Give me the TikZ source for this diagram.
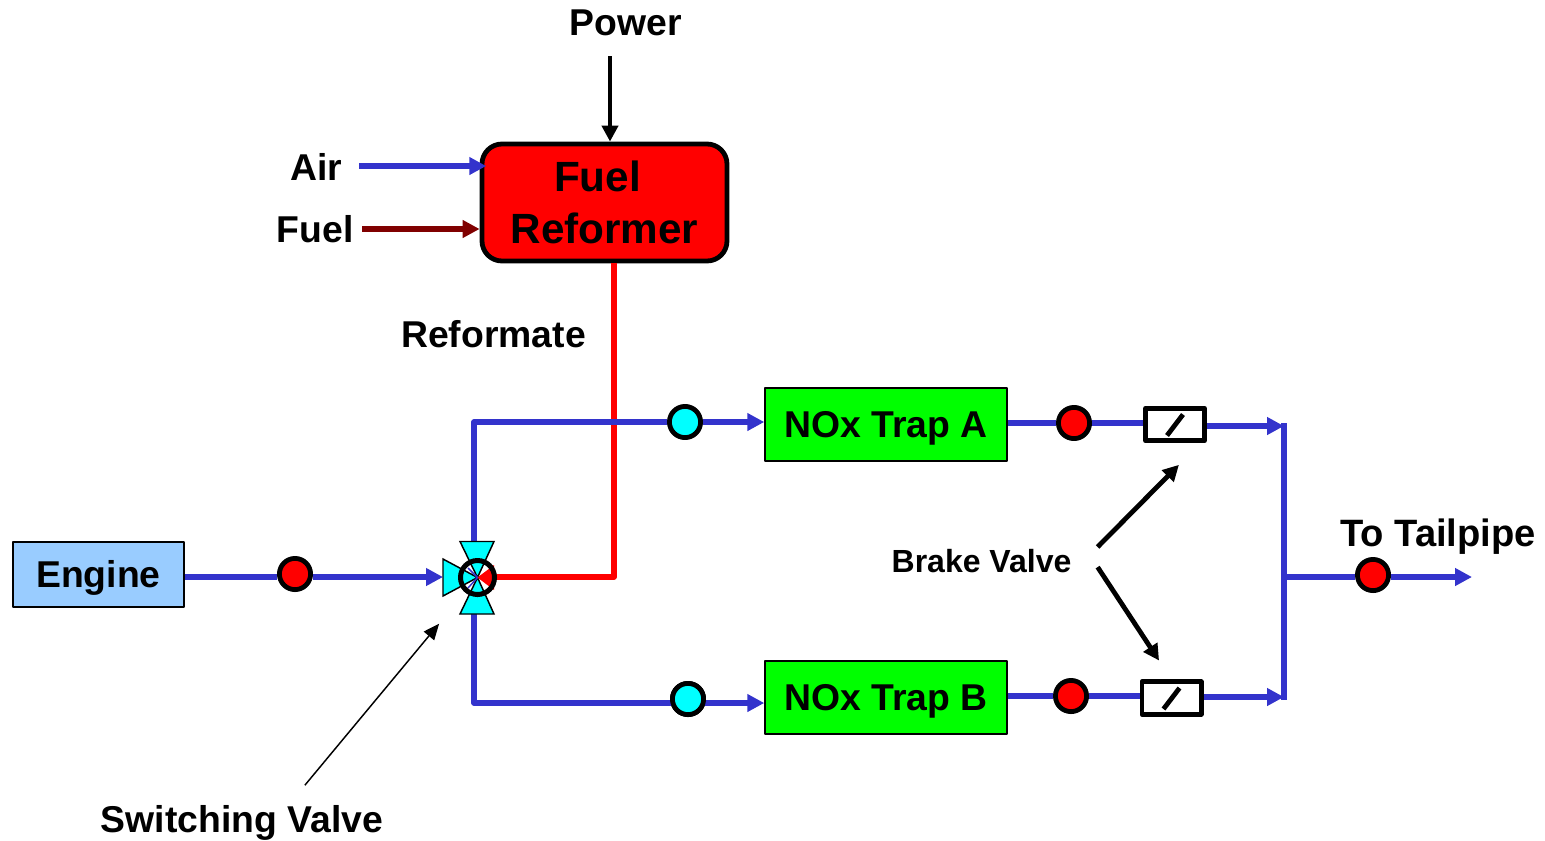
\documentclass[tikz,border=0pt]{standalone}
\usepackage{fontspec}
\setmainfont{Liberation Sans}
\usetikzlibrary{arrows.meta}
\definecolor{pipeblue}{HTML}{3333CC}
\definecolor{fueldark}{HTML}{800000}
\definecolor{enginefill}{HTML}{99CCFF}
\definecolor{aqua}{HTML}{00FFFF}
\tikzset{
	label text/.style={font=\fontsize{28}{33}\selectfont\bfseries,inner sep=0pt},
	unit/.style={draw=black,line width=1.1pt,inner sep=0pt,text height=20pt,text depth=0pt,font=\fontsize{28}{33}\selectfont\bfseries},
	sensor/.style={circle,draw=black,line width=3.6pt,minimum size=23.4pt,inner sep=0pt},
	brake box/.style={draw=black,line width=3.6pt,fill=white,minimum width=44.4pt,minimum height=24.2pt,inner sep=0pt},
	pipe/.style={pipeblue,line width=4pt},
	flow/.style={pipe,-{Triangle[length=12.75pt,width=12.75pt]}},
	pointer/.style={black,line width=3.6pt,-{Triangle[length=12pt,width=12pt]}},
	wedge/.style={fill=aqua,draw=black,line width=1.1pt,line join=miter}
}
\begin{document}
\begin{tikzpicture}[x=0.75pt,y=-0.75pt,line join=round]
	\useasboundingbox (0,0) rectangle (1545,840);
	% units
	\node[unit,fill=enginefill,minimum width=128.25pt,minimum height=48.75pt] (engine) at (98.5,574.5) {Engine};
	\node[unit,fill=green,minimum width=181.5pt,minimum height=54.75pt] (trapA) at (886,424.5) {NOx Trap A};
	\node[unit,fill=green,minimum width=181.5pt,minimum height=54.75pt] (trapB) at (886,697.5) {NOx Trap B};
	\node[draw=black,line width=3.6pt,fill=red,rounded corners=15pt,minimum width=183.75pt,minimum height=87.75pt,inner sep=0pt,align=center,font=\fontsize{31.7}{39}\selectfont\bfseries] (reformer) at (604.5,202.5) {\mbox{Fuel\kern10.5pt}\\Reformer};
	% sensors and valves
	\node[sensor,fill=red] (sensorE) at (295,574) {};
	\node[sensor,fill=aqua] (sensorA) at (685,422) {};
	\node[sensor,fill=aqua] (sensorB) at (688,699) {};
	\node[sensor,fill=red] (sensorC) at (1074,423) {};
	\node[sensor,fill=red] (sensorD) at (1071,696) {};
	\node[sensor,fill=red] (sensorT) at (1373,575) {};
	\node[brake box] (valveA) at (1175,424.5) {};
	\node[brake box] (valveB) at (1171.5,698) {};
	\foreach \v in {valveA,valveB}
		\draw[line width=3.6pt] ([shift={(-8,11)}]\v.center)--([shift={(8,-10)}]\v.center);
	% labels
	\node[label text] (power) at (626,23) {Power};
	\node[label text] (air) at (316,167) {Air};
	\node[label text] (fuel) at (315,229.5) {Fuel};
	\node[label text] (reformate) at (493.5,334.5) {Reformate};
	\node[label text,font=\fontsize{28.6}{33}\selectfont\bfseries] (tailpipe) at (1438,537) {To Tailpipe};
	\node[label text,inner ysep=15pt] (switching) at (242,823) {Switching Valve};
	\node[font=\fontsize{24}{28}\selectfont\bfseries,inner ysep=1.5pt,inner xsep=19.5pt] (brake) at (981.5,561) {Brake Valve};
	% free ends and corners
	\coordinate (valve) at (477.5,577.5);
	\coordinate (valveL) at (443,577);
	\coordinate (valveT) at (474,542);
	\coordinate (valveD) at (474,614);
	\coordinate (cornerA) at (474,422);
	\coordinate (cornerB) at (474,703);
	\coordinate (cornerR) at (614,577);
	\coordinate (airIn) at (359,166);
	\coordinate (fuelIn) at (362,229);
	\coordinate (busA) at (1284,426);
	\coordinate (busB) at (1284,697);
	\coordinate (busT) at (1284,577);
	\coordinate (tailEnd) at (1472,577);
	% reformate
	\draw[red,line width=4pt] (cornerR|-reformer.south)--(cornerR)--(495,577);
	% pipes
	\draw[pipe] (engine.east|-valveL)--(sensorE.west|-valveL);
	\draw[flow] (sensorE.east|-valveL)--(valveL);
	\draw[pipe] (valveT)--(cornerA)--(sensorA);
	\draw[flow] (sensorA.east)--(trapA.west|-sensorA);
	\draw[pipe] (valveD)--(cornerB)--(sensorB|-cornerB);
	\draw[flow] (sensorB|-cornerB)--(trapB.west|-cornerB);
	\draw[pipe] (trapA.east|-sensorC)--(sensorC);
	\draw[pipe] (sensorC)--(valveA.west|-sensorC);
	\draw[pipe] (trapB.east|-sensorD)--(sensorD);
	\draw[pipe] (sensorD)--(valveB.west|-sensorD);
	\draw[flow] (valveA.east|-busA)--(busA);
	\draw[flow] (valveB.east|-busB)--(busB);
	\draw[pipe,line cap=rect] (busA)--(busB);
	\draw[pipe] (busT)--(sensorT.west|-busT);
	\draw[flow] (sensorT.east|-tailEnd)--(tailEnd);
	\node[sensor,fill=aqua] at (sensorB) {};
	\draw[flow,shorten >=-5pt] (airIn)--(reformer.west|-airIn);
	\draw[fueldark,line width=4pt,-{Triangle[length=12.75pt,width=12.75pt]}] (fuelIn)--(reformer.west|-fuelIn);
	% power and call-outs
	\draw[pointer] (power.south-|610,0)++(0,20)--(reformer.north-|610,0);
	\draw[pointer,shorten >=23pt] (brake.north east)--(valveA.-36);
	\draw[pointer,shorten >=17pt] (brake.-3)--(valveB.north);
	\draw[black,line width=1.1pt,-{Triangle[length=12pt,width=10pt]},shorten >=45pt] (switching.31)--(valve);
	% switching valve
	\fill[white] (valve) circle (17);
	\draw[wedge] (valve)--(460,541.5)--(494,541.5)--cycle;
	\draw[wedge] (valve)--(460,614)--(494,614)--cycle;
	\draw[wedge] (valve)--(443,559)--(443,596)--cycle;
	\draw[pipeblue,line width=1.1pt] (valve)--(468,568) (valve)--(468,588);
	\fill[red] (valve)--(494,565)--(494,590)--cycle;
	\draw[black,line width=3.75pt] (valve) circle (17);
\end{tikzpicture}
\end{document}
